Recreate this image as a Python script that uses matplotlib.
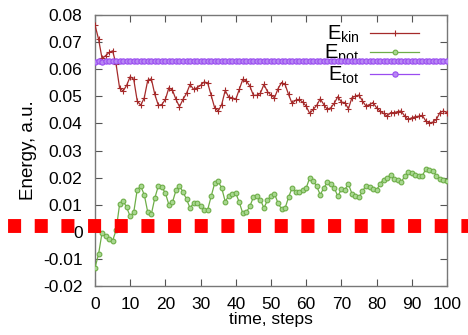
import matplotlib
matplotlib.use('Agg')
import matplotlib.pyplot as plt
from matplotlib.lines import Line2D

plt.rcParams['font.family'] = ['Liberation Sans', 'DejaVu Sans']
plt.rcParams['lines.scale_dashes'] = False

steps = list(range(101))

e_kin = [0.0763, 0.0712, 0.0640, 0.0650, 0.0662, 0.0668, 0.0618, 0.0530, 0.0520, 0.0541,
         0.0573, 0.0563, 0.0483, 0.0467, 0.0495, 0.0560, 0.0565, 0.0507, 0.0467, 0.0470,
         0.0489, 0.0532, 0.0523, 0.0489, 0.0462, 0.0489, 0.0511, 0.0544, 0.0526, 0.0532,
         0.0541, 0.0553, 0.0550, 0.0504, 0.0458, 0.0446, 0.0470, 0.0522, 0.0497, 0.0495,
         0.0489, 0.0526, 0.0563, 0.0557, 0.0538, 0.0504, 0.0504, 0.0512, 0.0544, 0.0518,
         0.0504, 0.0495, 0.0528, 0.0551, 0.0544, 0.0507, 0.0474, 0.0486, 0.0489, 0.0479,
         0.0464, 0.0437, 0.0452, 0.0467, 0.0491, 0.0470, 0.0452, 0.0458, 0.0475, 0.0499,
         0.0479, 0.0477, 0.0454, 0.0495, 0.0501, 0.0505, 0.0483, 0.0464, 0.0470, 0.0477,
         0.0458, 0.0446, 0.0437, 0.0427, 0.0440, 0.0440, 0.0444, 0.0446, 0.0427, 0.0415,
         0.0421, 0.0425, 0.0427, 0.0430, 0.0409, 0.0402, 0.0405, 0.0415, 0.0440, 0.0446,
         0.0440]

e_pot = [-0.0132, -0.0083, -0.0003, -0.0015, -0.0027, -0.0033, 0.0007, 0.0103, 0.0115, 0.0090,
         0.0057, 0.0072, 0.0156, 0.0168, 0.0137, 0.0072, 0.0065, 0.0125, 0.0170, 0.0165,
         0.0143, 0.0100, 0.0109, 0.0153, 0.0170, 0.0147, 0.0121, 0.0088, 0.0106, 0.0106,
         0.0096, 0.0081, 0.0081, 0.0131, 0.0179, 0.0186, 0.0162, 0.0112, 0.0133, 0.0141,
         0.0143, 0.0109, 0.0068, 0.0073, 0.0094, 0.0128, 0.0131, 0.0119, 0.0088, 0.0117,
         0.0133, 0.0141, 0.0106, 0.0085, 0.0087, 0.0128, 0.0162, 0.0146, 0.0146, 0.0153,
         0.0162, 0.0199, 0.0189, 0.0168, 0.0137, 0.0162, 0.0183, 0.0178, 0.0162, 0.0131,
         0.0158, 0.0156, 0.0177, 0.0141, 0.0133, 0.0127, 0.0150, 0.0170, 0.0165, 0.0158,
         0.0153, 0.0178, 0.0193, 0.0199, 0.0211, 0.0195, 0.0193, 0.0184, 0.0205, 0.0220,
         0.0217, 0.0209, 0.0207, 0.0207, 0.0232, 0.0227, 0.0226, 0.0207, 0.0195, 0.0190,
         0.0189]

e_tot = [0.0628, 0.0629, 0.0628, 0.0630, 0.0630, 0.0629, 0.0629, 0.0630, 0.0630, 0.0629,
         0.0630, 0.0630, 0.0631, 0.0631, 0.0630, 0.0631, 0.0631, 0.0630, 0.0631, 0.0632,
         0.0632, 0.0631, 0.0631, 0.0631, 0.0630, 0.0631, 0.0631, 0.0632, 0.0631, 0.0631,
         0.0630, 0.0630, 0.0631, 0.0630, 0.0630, 0.0629, 0.0630, 0.0630, 0.0631, 0.0630,
         0.0630, 0.0630, 0.0630, 0.0630, 0.0631, 0.0631, 0.0630, 0.0630, 0.0631, 0.0630,
         0.0630, 0.0630, 0.0631, 0.0630, 0.0630, 0.0630, 0.0630, 0.0630, 0.0631, 0.0631,
         0.0630, 0.0630, 0.0630, 0.0631, 0.0631, 0.0630, 0.0630, 0.0631, 0.0630, 0.0630,
         0.0630, 0.0631, 0.0630, 0.0630, 0.0630, 0.0631, 0.0631, 0.0630, 0.0630, 0.0630,
         0.0630, 0.0630, 0.0631, 0.0631, 0.0630, 0.0630, 0.0630, 0.0631, 0.0631, 0.0630,
         0.0630, 0.0630, 0.0631, 0.0631, 0.0630, 0.0630, 0.0630, 0.0630, 0.0631, 0.0630,
         0.0630]

x_ticks = list(range(0, 101, 10))
y_ticks = [-0.02, -0.01, 0.0, 0.01, 0.02, 0.03, 0.04, 0.05, 0.06, 0.07, 0.08]
y_tick_labels = ['-0.02', '-0.01', '0', '0.01', '0.02', '0.03', '0.04', '0.05', '0.06', '0.07', '0.08']

fig = plt.figure(figsize=(4.68, 3.35), dpi=100)
ax = fig.add_axes([0.203, 0.146, 0.752, 0.809])

ax.plot(steps, e_kin, color='#a52a2a', lw=0.9, marker='+', ms=4, mew=0.8,
        label=r'$\mathregular{E_{kin}}$', zorder=3)
ax.plot(steps, e_pot, color='#6eae48', lw=0.9, marker='o', ms=3.4, mew=0.8,
        mfc='#a8d890', label=r'$\mathregular{E_{pot}}$', zorder=3)
ax.plot(steps, e_tot, color='#9a4cf0', lw=0.9, marker='o', ms=3.8, mew=0.8,
        mfc='#b888f4', label=r'$\mathregular{E_{tot}}$', zorder=3)

ax.set_xlim(0, 100)
ax.set_ylim(-0.02, 0.08)
ax.set_xticks(x_ticks)
ax.set_yticks(y_ticks)
ax.set_yticklabels(y_tick_labels)
ax.tick_params(direction='in', length=5, width=0.8, top=True, right=True,
               labelsize=12.5, color='#555555')
ax.tick_params(axis='y', pad=9)
ax.tick_params(axis='x', pad=8)
for s in ax.spines.values():
    s.set_color('#777777')
    s.set_linewidth(1.0)

ax.set_xlabel('time, steps', fontsize=12.5, labelpad=0)
ax.set_ylabel('Energy, a.u.', fontsize=13.5, labelpad=4)

leg = ax.legend(loc='upper right', bbox_to_anchor=(0.912, 0.953), bbox_transform=fig.transFigure,
                frameon=False, markerfirst=False, fontsize=14.5, handlelength=2.4,
                labelspacing=-0.12, handletextpad=0.55, borderaxespad=0)
leg.set_zorder(1)

# thick red dashed marker line across the whole figure
fig.add_artist(Line2D([0, 1], [0.3254, 0.3254], transform=fig.transFigure,
                      color='#ff0000', lw=10, linestyle=(-5.8, (9.4, 9.8)),
                      solid_capstyle='butt', dash_capstyle='butt', zorder=10))

fig.savefig('out.png', dpi=100)
